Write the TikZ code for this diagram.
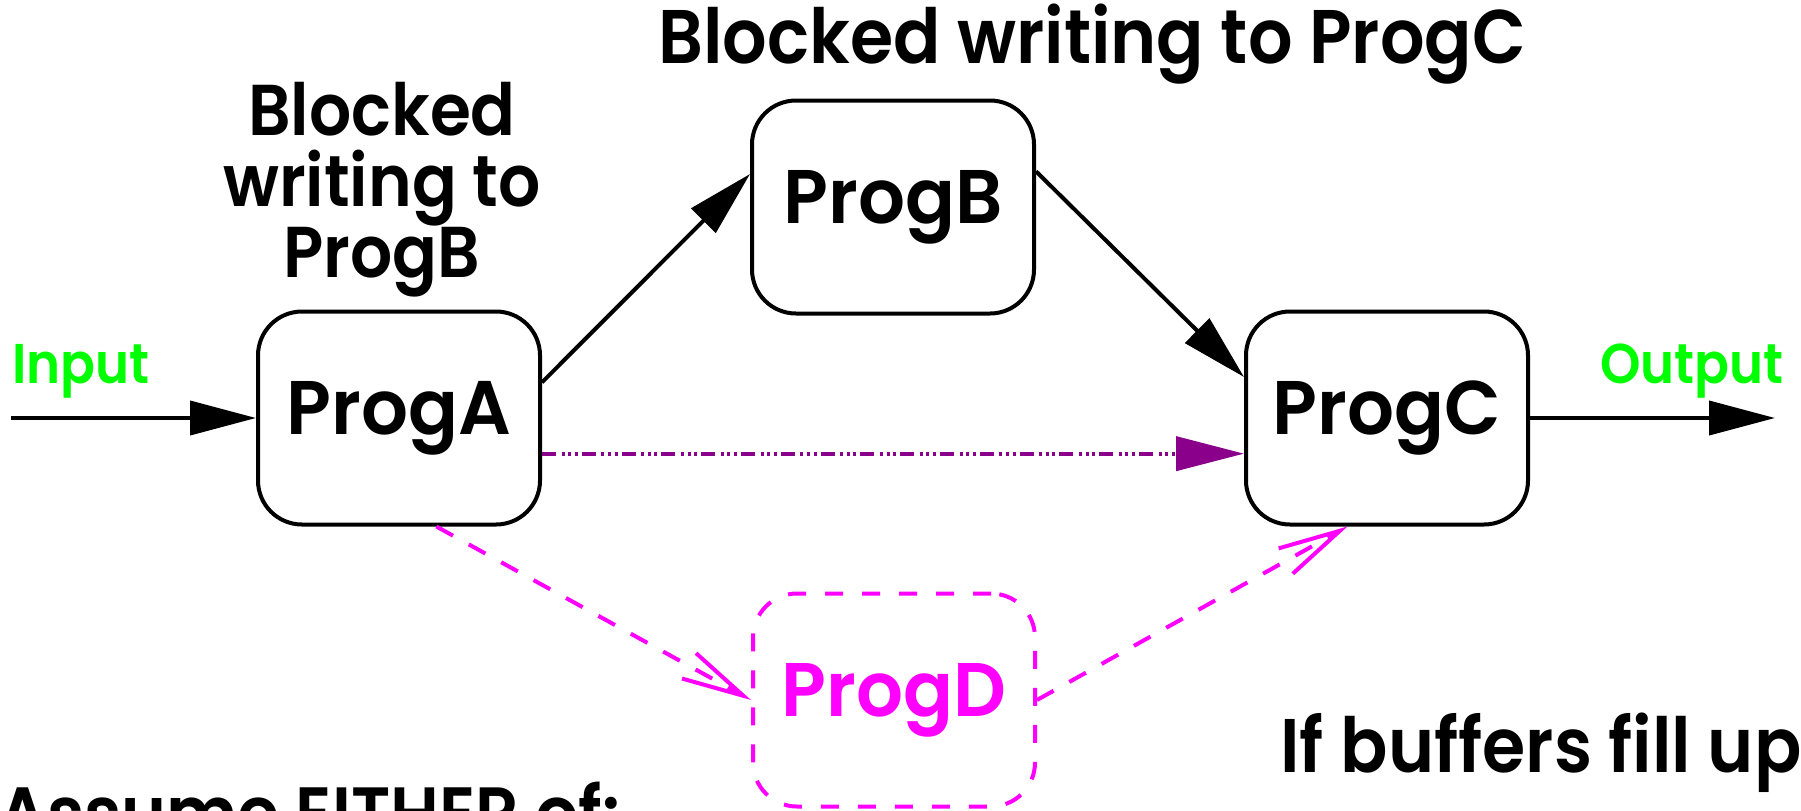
\documentclass[tikz,border=0pt]{standalone}
\usepackage{fontspec}
\setmainfont{Poppins SemiBold}[FakeStretch=0.92]
\newfontfamily\boxfont{Poppins SemiBold}[FakeStretch=0.97]
\usetikzlibrary{arrows.meta}
\definecolor{tgreen}{RGB}{0,255,0}
\definecolor{tmag}{RGB}{255,0,255}
\definecolor{tpurp}{RGB}{139,0,139}
\begin{document}
\begin{tikzpicture}[x=0.5pt,y=-0.5pt,
  prog/.style={draw=black,line width=2pt,rounded corners=22pt,minimum width=141pt,minimum height=106.5pt,inner sep=0pt,font=\boxfont\fontsize{38}{40}\selectfont},
  progd/.style={prog,draw=tmag,text=tmag,dash pattern=on 9pt off 9.5pt,line width=2pt},
  big/.style={font=\fontsize{38}{35.5}\selectfont,inner sep=0pt},
  lbl/.style={font=\fontsize{28}{30}\selectfont,text=tgreen,inner sep=0pt},
  flow/.style={line width=2pt,-{Triangle[length=33pt,width=17pt]}},
  alt/.style={tpurp,line width=2pt,dash pattern=on 7pt off 2.8pt on 1.5pt off 1.8pt on 1.5pt off 1.8pt on 1.5pt off 2pt,-{Triangle[length=34pt,width=17pt]}},
  dflow/.style={tmag,line width=2pt,dash pattern=on 9.5pt off 9pt,-{Straight Barb[length=31pt,width=14.5pt,line width=2pt]}}
]
\useasboundingbox (0,0) rectangle (1801,810);
\clip (0,0) rectangle (1801,810);
\node[prog] (A) at (399,418) {ProgA};
\node[prog] (B) at (893,207) {ProgB};
\node[prog] (C) at (1387,418) {ProgC};
\node[progd] (D) at (894,700) {ProgD};
\coordinate (in) at (11,418);
\coordinate (out) at (1775,418);
\draw[flow] (in) -- (A.west);
\draw[flow] (A.14) -- (B.167);
\draw[flow] (B.14) -- (C.164);
\draw[flow] (C.east) -- (out);
\draw[alt] (A.-14) -- (C.194);
\draw[dflow] (A.-71) -- (D.west);
\draw[dflow] (D.east) -- (C.250);
\node[lbl,anchor=base] (tin) at (81,383) {Input};
\node[lbl,anchor=base] (tout) at (1692,383) {Output};
\node[big,anchor=base] (tbc) at (1092,63) {Blocked writing to ProgC};
\node[big,anchor=base,align=center,font=\fontsize{36}{35.5}\selectfont] (tbb) at (382,277) {Blocked\\writing to\\ProgB};
\node[big,anchor=base] (tif) at (1541,772) {If buffers fill up};
\node[big,anchor=base west,font=\fontsize{37}{35.5}\selectfont] (tas) at (-2,839) {Assume EITHER of:};
\end{tikzpicture}
\end{document}
